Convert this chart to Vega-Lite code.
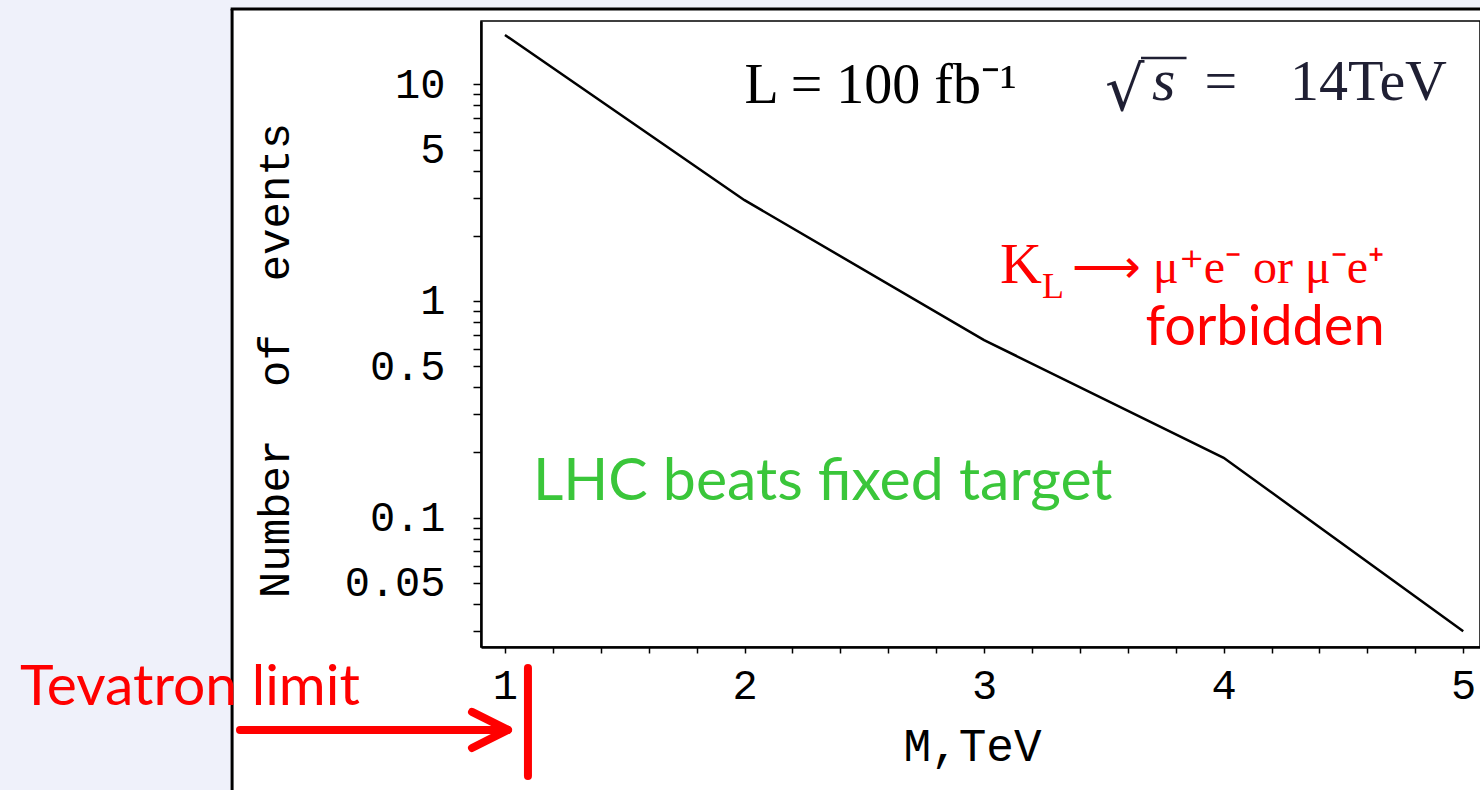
{
  "$schema": "https://vega.github.io/schema/vega-lite/v6.json",
  "width": 999,
  "height": 626,
  "autosize": {"type": "none"},
  "padding": {"left": 481, "top": 21, "right": 0, "bottom": 143},
  "background": "white",
  "config": {"view": {"stroke": "black", "strokeWidth": 1.5, "fill": "white"}},
  "layer": [
    {
      "data": {"values": [
        {"x": -1.2, "x2": -0.139, "y": 27.2, "y2": 0.00498},
        {"x": -0.139, "x2": 5.2, "y": 27.2, "y2": 22.26}
      ]},
      "mark": {"type": "rect", "fill": "#eff1fa", "stroke": null, "clip": false},
      "encoding": {
        "x": {"field": "x", "type": "quantitative"},
        "x2": {"field": "x2"},
        "y": {"field": "y", "type": "quantitative"},
        "y2": {"field": "y2"}
      }
    },
    {
      "data": {"values": [
        {"x": -0.139, "x2": -0.139, "y": 22.26, "y2": 0.00498},
        {"x": -0.145, "x2": 5.2, "y": 22.26, "y2": 22.26}
      ]},
      "mark": {"type": "rule", "color": "black", "strokeWidth": 3, "clip": false},
      "encoding": {
        "x": {"field": "x", "type": "quantitative"},
        "x2": {"field": "x2"},
        "y": {"field": "y", "type": "quantitative"},
        "y2": {"field": "y2"}
      }
    },
    {
      "data": {"values": [
        {"m": 1, "n": 16.9},
        {"m": 2, "n": 2.92},
        {"m": 3, "n": 0.66},
        {"m": 4, "n": 0.189},
        {"m": 5, "n": 0.0299}
      ]},
      "mark": {"type": "line", "color": "black", "strokeWidth": 2.5},
      "encoding": {
        "x": {
          "field": "m", "type": "quantitative",
          "scale": {"domain": [0.9, 5.07], "nice": false, "zero": false},
          "axis": {
            "values": [1, 1.2, 1.4, 1.6, 1.8, 2, 2.2, 2.4, 2.6, 2.8, 3, 3.2, 3.4, 3.6, 3.8, 4, 4.2, 4.4, 4.6, 4.8, 5],
            "labelExpr": "datum.value % 1 == 0 ? format(datum.value, 'd') : ''",
            "labelOverlap": false,
            "labelFlush": false,
            "labelFont": "Liberation Mono",
            "labelFontSize": 42,
            "labelColor": "black",
            "labelPadding": 12,
            "tickSize": 6,
            "tickColor": "black",
            "tickWidth": 1.5,
            "domainColor": "black",
            "domainWidth": 2.5,
            "grid": false,
            "zindex": 1,
            "title": "M,TeV",
            "titleFont": "Liberation Mono",
            "titleFontSize": 46,
            "titleFontWeight": "normal",
            "titleColor": "black",
            "titleX": 491,
            "titleY": 113,
            "titleAlign": "center",
            "titleBaseline": "alphabetic",
            "encode": {"ticks": {"update": {"y2": {"signal": "datum.value % 1 == 0 ? -7 : -4"}}}}
          }
        },
        "y": {
          "field": "n", "type": "quantitative",
          "scale": {"type": "log", "domain": [0.0253, 19.6], "nice": false, "zero": false},
          "axis": {
            "values": [0.03, 0.04, 0.05, 0.06, 0.07, 0.08, 0.09, 0.1, 0.2, 0.3, 0.4, 0.5, 0.6, 0.7, 0.8, 0.9, 1, 2, 3, 4, 5, 6, 7, 8, 9, 10],
            "labelExpr": "datum.value == 10 ? '10' : datum.value == 5 ? '5' : datum.value == 1 ? '1' : datum.value == 0.5 ? '0.5' : datum.value == 0.1 ? '0.1' : datum.value == 0.05 ? '0.05' : ''",
            "labelOverlap": false,
            "labelFlush": false,
            "labelFont": "Liberation Mono",
            "labelFontSize": 42,
            "labelColor": "black",
            "labelPadding": 28,
            "tickSize": 8,
            "tickColor": "black",
            "tickWidth": 1.5,
            "domainColor": "black",
            "domainWidth": 2.5,
            "grid": false,
            "zindex": 1,
            "title": "Number\u00a0\u00a0of\u00a0\u00a0events",
            "titleFont": "Liberation Mono",
            "titleFontSize": 44,
            "titleFontWeight": "normal",
            "titleColor": "black",
            "titleX": -206,
            "titleY": 339,
            "titleAngle": 270,
            "titleAlign": "center",
            "titleBaseline": "middle",
            "encode": {"ticks": {"update": {"x2": {"signal": "indexof([10,5,1,0.5,0.1,0.05], datum.value) >= 0 ? 8 : 4"}}}}
          }
        }
      }
    },
    {
      "data": {"values": [{"x": 2.0, "y": 8.2, "t": "L = 100 fb\u207b\u00b9"}]},
      "mark": {"type": "text", "font": "Liberation Serif", "fontSize": 56, "color": "black", "align": "left", "baseline": "alphabetic"},
      "encoding": {
        "x": {"field": "x", "type": "quantitative"},
        "y": {"field": "y", "type": "quantitative"},
        "text": {"field": "t"}
      }
    },
    {
      "data": {"values": [{"x": 3.5047, "y": 7.6, "t": "\u221a"}]},
      "mark": {"type": "text", "font": "DejaVu Serif", "fontSize": 62, "color": "#1f1f33", "align": "left", "baseline": "alphabetic"},
      "encoding": {
        "x": {"field": "x", "type": "quantitative"},
        "y": {"field": "y", "type": "quantitative"},
        "text": {"field": "t"}
      }
    },
    {
      "data": {"values": [{"x": 3.7009, "y": 8.46, "t": "s"}]},
      "mark": {"type": "text", "font": "Liberation Serif", "fontSize": 60, "fontStyle": "italic", "color": "#1f1f33", "align": "left", "baseline": "alphabetic"},
      "encoding": {
        "x": {"field": "x", "type": "quantitative"},
        "y": {"field": "y", "type": "quantitative"},
        "text": {"field": "t"}
      }
    },
    {
      "data": {"values": [
        {"x": 3.92, "y": 8.46, "t": "="},
        {"x": 4.2769, "y": 8.46, "t": "14TeV"}
      ]},
      "mark": {"type": "text", "font": "Liberation Serif", "fontSize": 58, "color": "#1f1f33", "align": "left", "baseline": "alphabetic"},
      "encoding": {
        "x": {"field": "x", "type": "quantitative"},
        "y": {"field": "y", "type": "quantitative"},
        "text": {"field": "t"}
      }
    },
    {
      "data": {"values": [{"x": 3.655, "x2": 3.845, "y": 13.23, "y2": 13.23}]},
      "mark": {"type": "rule", "color": "#1f1f33", "strokeWidth": 2.5, "clip": false},
      "encoding": {
        "x": {"field": "x", "type": "quantitative"},
        "x2": {"field": "x2"},
        "y": {"field": "y", "type": "quantitative"},
        "y2": {"field": "y2"}
      }
    },
    {
      "data": {"values": [{"x": 3.066, "y": 1.21, "t": "K"}]},
      "mark": {"type": "text", "font": "Liberation Serif", "fontSize": 58, "color": "#ff0000", "align": "left", "baseline": "alphabetic"},
      "encoding": {
        "x": {"field": "x", "type": "quantitative"},
        "y": {"field": "y", "type": "quantitative"},
        "text": {"field": "t"}
      }
    },
    {
      "data": {"values": [{"x": 3.242, "y": 1.032, "t": "L"}]},
      "mark": {"type": "text", "font": "Liberation Serif", "fontSize": 36, "color": "#ff0000", "align": "left", "baseline": "alphabetic"},
      "encoding": {
        "x": {"field": "x", "type": "quantitative"},
        "y": {"field": "y", "type": "quantitative"},
        "text": {"field": "t"}
      }
    },
    {
      "data": {"values": [{"x": 3.367, "y": 1.21, "t": "\u27f6 \u03bc\u207ae\u207b or \u03bc\u207be\u207a"}]},
      "mark": {"type": "text", "font": "Liberation Serif", "fontSize": 48, "color": "#ff0000", "align": "left", "baseline": "alphabetic"},
      "encoding": {
        "x": {"field": "x", "type": "quantitative"},
        "y": {"field": "y", "type": "quantitative"},
        "text": {"field": "t"}
      }
    },
    {
      "data": {"values": [
        {"x": 4.173, "y": 0.6265, "t": "forbidden"}
      ]},
      "mark": {"type": "text", "font": "Comic Sans MS, Lato", "fontSize": 56, "color": "#ff0000", "align": "center", "baseline": "alphabetic"},
      "encoding": {
        "x": {"field": "x", "type": "quantitative"},
        "y": {"field": "y", "type": "quantitative"},
        "text": {"field": "t"}
      }
    },
    {
      "data": {"values": [
        {"x": -1.024, "y": 0.01367, "t": "Tevatron limit"}
      ]},
      "mark": {"type": "text", "font": "Comic Sans MS, Lato", "fontSize": 57, "color": "#ff0000", "align": "left", "baseline": "alphabetic"},
      "encoding": {
        "x": {"field": "x", "type": "quantitative"},
        "y": {"field": "y", "type": "quantitative"},
        "text": {"field": "t"}
      }
    },
    {
      "data": {"values": [
        {"x": 1.117, "y": 0.1207, "t": "LHC beats fixed target"}
      ]},
      "mark": {"type": "text", "font": "Comic Sans MS, Lato", "fontSize": 59, "color": "#3ac63a", "align": "left", "baseline": "alphabetic"},
      "encoding": {
        "x": {"field": "x", "type": "quantitative"},
        "y": {"field": "y", "type": "quantitative"},
        "text": {"field": "t"}
      }
    },
    {
      "data": {"values": [
        {"x": -0.106, "x2": 0.995, "y": 0.01048, "y2": 0.01048},
        {"x": 0.8624, "x2": 1.0127, "y": 0.01269, "y2": 0.01048},
        {"x": 0.8624, "x2": 1.0127, "y": 0.00865, "y2": 0.01048},
        {"x": 1.096, "x2": 1.096, "y": 0.02025, "y2": 0.00643}
      ]},
      "mark": {"type": "rule", "color": "#ff0000", "strokeWidth": 8, "strokeCap": "round", "clip": false},
      "encoding": {
        "x": {"field": "x", "type": "quantitative"},
        "x2": {"field": "x2"},
        "y": {"field": "y", "type": "quantitative"},
        "y2": {"field": "y2"}
      }
    }
  ]
}
